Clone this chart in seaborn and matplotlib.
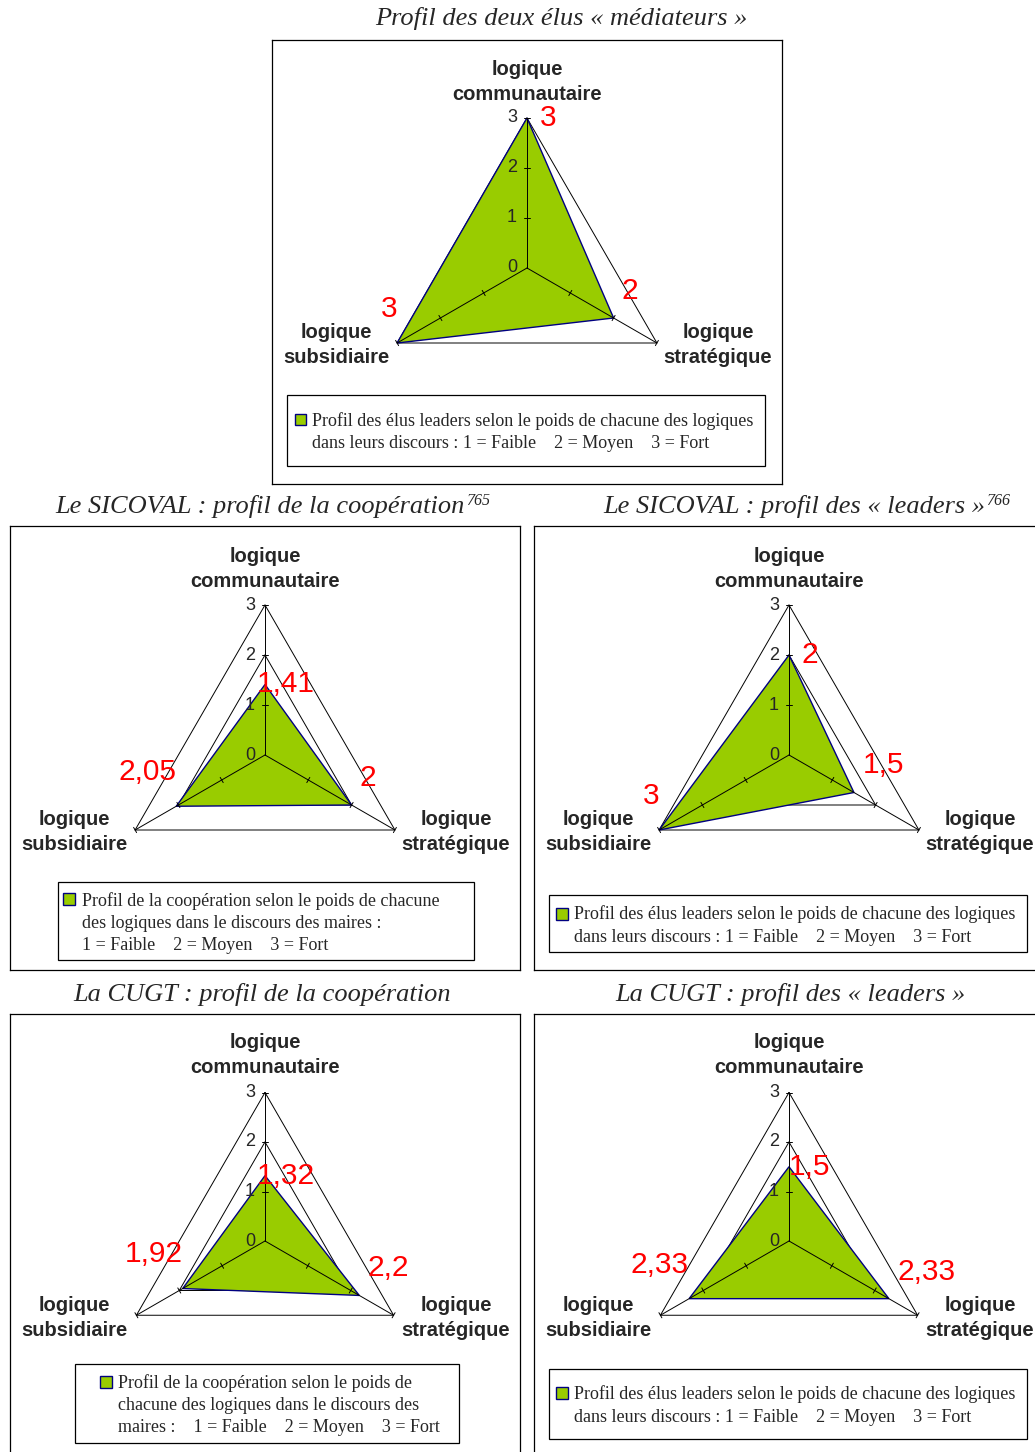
import numpy as np
import matplotlib
matplotlib.use("Agg")
import matplotlib.pyplot as plt
from matplotlib.patches import Rectangle
import seaborn as sns

sns.set_theme(style="white")
plt.rcParams['font.family'] = ['Liberation Sans', 'DejaVu Sans']

# axes of the radar (clockwise from top)
AXIS_NAMES = ["logique\ncommunautaire", "logique\nstratégique", "logique\nsubsidiaire"]
ANGLES = [90, -30, 210]
LEVELS = [0, 1, 2, 3]

TITLES = ["Profil des deux élus « médiateurs »",
          "Le SICOVAL : profil de la coopération",
          "Le SICOVAL : profil des « leaders »",
          "La CUGT : profil de la coopération",
          "La CUGT : profil des « leaders »"]
FOOTNOTES = ["", "765", "766", "", ""]

# values: communautaire, stratégique, subsidiaire
mediateurs = [3, 2, 3]
sicoval_coop = [1.41, 2, 2.05]
sicoval_leaders = [2, 1.5, 3]
cugt_coop = [1.32, 2.2, 1.92]
cugt_leaders = [1.5, 2.33, 2.33]
VALUES = [mediateurs, sicoval_coop, sicoval_leaders, cugt_coop, cugt_leaders]

LEG_LEADERS = ["Profil des élus leaders selon le poids de chacune des logiques",
               "dans leurs discours : 1 = Faible    2 = Moyen    3 = Fort"]
LEG_COOP_A = ["Profil de la coopération selon le poids de chacune",
              "des logiques dans le discours des maires :",
              "1 = Faible    2 = Moyen    3 = Fort"]
LEG_COOP_B = ["Profil de la coopération selon le poids de",
              "chacune des logiques dans le discours des",
              "maires :    1 = Faible    2 = Moyen    3 = Fort"]
LEGENDS = [LEG_LEADERS, LEG_COOP_A, LEG_LEADERS, LEG_COOP_B, LEG_LEADERS]

# layout in pixels
W, H = 1035, 1452
PANELS = [
    dict(box=(272, 40, 782, 484), c=(527, 268), s=50, title=(561, 19),
         leg=(287, 395, 765, 466), mk=(295, 414, 306, 425), tx=312, ty=421, dy=22),
    dict(box=(10, 526, 520, 970), c=(265, 755), s=50, title=(260, 506),
         leg=(58, 882, 474, 960), mk=(63, 893, 75, 905), tx=82, ty=901, dy=22),
    dict(box=(534, 526, 1045, 970), c=(789, 755), s=50, title=(794, 506),
         leg=(549, 895, 1027, 952), mk=(556, 908, 568, 920), tx=574, ty=914, dy=23),
    dict(box=(10, 1014, 520, 1462), c=(265, 1241), s=49.5, title=(262, 994),
         leg=(75, 1364, 459, 1443), mk=(100, 1376, 112, 1388), tx=118, ty=1383, dy=22.5),
    dict(box=(534, 1014, 1045, 1462), c=(789, 1241), s=49.5, title=(790, 994),
         leg=(549, 1369, 1027, 1439), mk=(556, 1387, 568, 1399), tx=574, ty=1394, dy=23),
]

GREEN = "#99CC00"
NAVY = "#000080"
SERIF = ['Liberation Serif', 'DejaVu Serif']

fig = plt.figure(figsize=(W / 100, H / 100), dpi=100)
theta = np.deg2rad(ANGLES)
cos, sin = np.cos(theta), np.sin(theta)


def fmt(v):
    return f"{v:g}".replace(".", ",")


for p, vals, legend in zip(PANELS, VALUES, LEGENDS):
    x0, y0, x1, y1 = p["box"]
    cx, cy = p["c"]
    s = p["s"]
    ax = fig.add_axes([x0 / W, 1 - y1 / H, (x1 - x0) / W, (y1 - y0) / H])
    ax.set_xlim((x0 - cx) / s, (x1 - cx) / s)
    ax.set_ylim((cy - y1) / s, (cy - y0) / s)
    ax.set_xticks([])
    ax.set_yticks([])
    for sp in ax.spines.values():
        sp.set_color("black")
        sp.set_linewidth(0.9)

    def d(px, py):
        return (px - cx) / s, (cy - py) / s

    # grid triangles behind the fill
    for lv in LEVELS[1:]:
        ax.plot(np.append(lv * cos, lv * cos[0]), np.append(lv * sin, lv * sin[0]),
                color="black", lw=0.7, zorder=1)

    # data polygon
    v = np.array(vals)
    ax.fill(v * cos, v * sin, facecolor=GREEN, edgecolor=NAVY, lw=1.0, zorder=2)

    # spokes and tick marks
    for c_, s_ in zip(cos, sin):
        ax.plot([0, 3 * c_], [0, 3 * s_], color="black", lw=0.7, zorder=3)
        for lv in LEVELS[1:]:
            ax.plot([lv * c_ - 0.06 * s_, lv * c_ + 0.06 * s_],
                    [lv * s_ + 0.06 * c_, lv * s_ - 0.06 * c_],
                    color="black", lw=0.7, zorder=3)

    # radial scale labels
    for lv in LEVELS:
        ax.text(-0.2, lv, str(lv), ha="right", va="center", fontsize=13, zorder=4)

    # axis names
    for name, (ox, oy) in zip(AXIS_NAMES, [(0, -186), (191, 77), (-191, 77)]):
        ax.text(ox / s, -oy / s, name, ha="center", va="center", fontsize=14.5,
                fontweight="bold", linespacing=1.45, zorder=4)

    # value labels
    offsets = [((15, 0), "center"), ((6, 19.5), "left"), ((0, 24.5), "right")]
    for val, c_, s_, (off, ha) in zip(vals, cos, sin, offsets):
        ax.annotate(fmt(val), xy=(val * c_, val * s_), xytext=off,
                    textcoords="offset points", ha=ha, va="center",
                    color="#FF0000", fontsize=21.5, zorder=5)

    # legend box
    lx0, ly0, lx1, ly1 = p["leg"]
    ax.add_patch(Rectangle(d(lx0, ly1), (lx1 - lx0) / s, (ly1 - ly0) / s,
                           facecolor="white", edgecolor="black", lw=0.9, zorder=4))
    mx0, my0, mx1, my1 = p["mk"]
    ax.add_patch(Rectangle(d(mx0, my1), (mx1 - mx0) / s, (my1 - my0) / s,
                           facecolor=GREEN, edgecolor=NAVY, lw=1.0, zorder=5))
    for k, line in enumerate(legend):
        ax.text(*d(p["tx"], p["ty"] + k * p["dy"]), line, ha="left", va="center",
                fontsize=13, family=SERIF, zorder=5)

# titles
renderer = fig.canvas.get_renderer()
for p, title, note in zip(PANELS, TITLES, FOOTNOTES):
    tx, ty = p["title"]
    t = fig.text(tx / W, 1 - ty / H, title, ha="center", va="center",
                 fontsize=19, style="italic", family=SERIF)
    if note:
        bb = t.get_window_extent(renderer)
        fig.text((bb.x1 + 1) / W, (bb.y1 + 1) / H, note, ha="left", va="top",
                 fontsize=11.5, style="italic", family=SERIF)

fig.savefig("out.png", dpi=100)
